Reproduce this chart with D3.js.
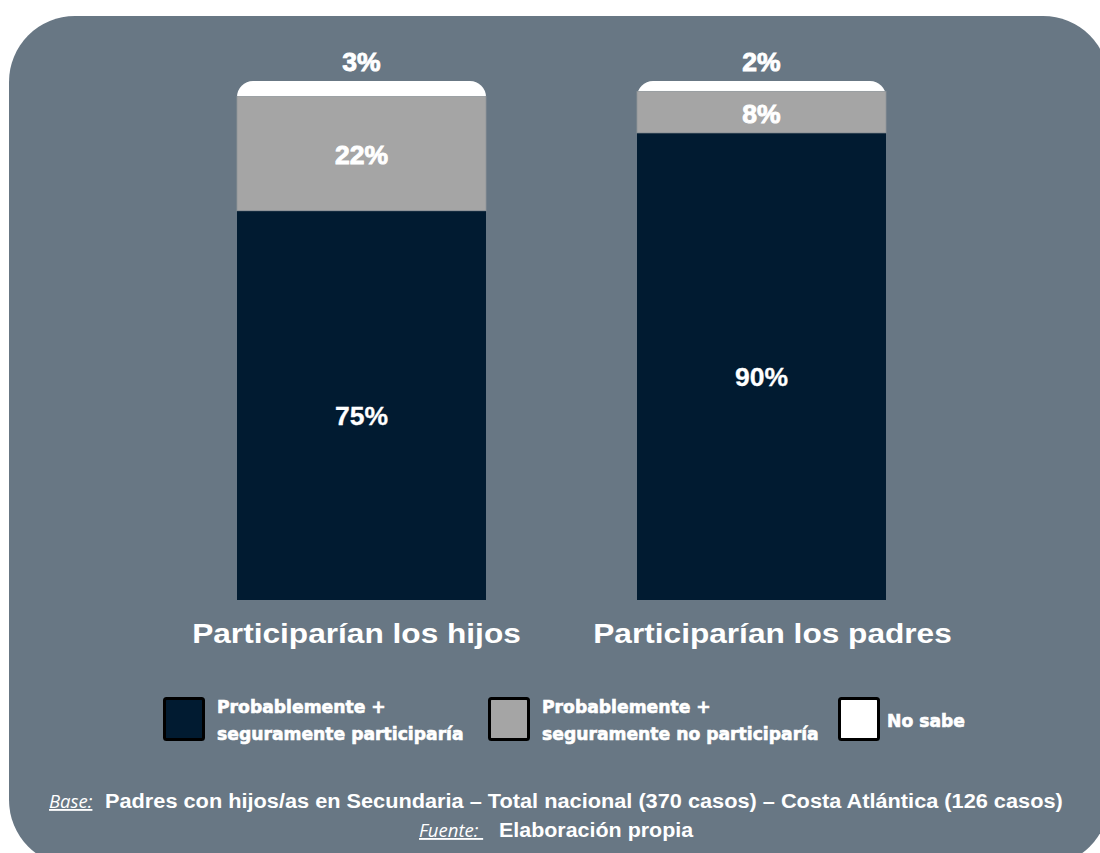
<!DOCTYPE html>
<html>
<head>
<meta charset="utf-8">
<script src="https://cdn.jsdelivr.net/npm/d3@7"></script>
<style>
  html, body { margin: 0; padding: 0; background: #ffffff; }
  svg { display: block; }
  .heavy { font-family: "DejaVu Sans", sans-serif; font-weight: bold; fill: #ffffff; }
  .bold { font-family: "Liberation Sans", Arial, sans-serif; font-weight: bold; fill: #ffffff; }
  .note { font-family: "Open Sans", sans-serif; font-style: italic; fill: #ffffff; text-decoration: underline; }
</style>
</head>
<body>
<svg id="chart" width="1100" height="853"></svg>
<script>
// Categories and stacked shares (percent)
const categories = ["Participarían los hijos", "Participarían los padres"];
const seriesNames = ["Probablemente + seguramente participaría", "Probablemente + seguramente no participaría", "No sabe"];
const participaria = [75, 90];
const noParticiparia = [22, 8];
const noSabe = [3, 2];

const legendLines = [
  ["Probablemente +", "seguramente participaría"],
  ["Probablemente +", "seguramente no participaría"],
  ["No sabe"]
];
const colors = ["#011b31", "#a5a5a5", "#ffffff"];

const svg = d3.select("#chart");

// Places a text at (x, y) with its glyphs widened horizontally by sx
function wideText(parent, cls, x, y, sx, size, anchor, str) {
  return parent.append("text")
    .attr("class", cls)
    .attr("transform", `translate(${x},${y}) scale(${sx},1)`)
    .attr("font-size", size)
    .attr("text-anchor", anchor)
    .text(str);
}

// Panel background
svg.append("rect")
  .attr("x", 9).attr("y", 16)
  .attr("width", 1100).attr("height", 850)
  .attr("rx", 66).attr("ry", 66)
  .attr("fill", "#687784");

const rows = categories.map((c, i) => ({
  cat: c,
  s0: participaria[i],
  s1: noParticiparia[i],
  s2: noSabe[i]
}));
const stack = d3.stack().keys(["s0", "s1", "s2"])(rows);

const x = d3.scaleBand().domain(categories).range([117, 1006]).paddingInner(0.3775).paddingOuter(0.3);
const y = d3.scaleLinear().domain([0, 100]).range([600, 81]);

const g = svg.append("g");
const r = 16;

// Top ("No sabe") segment with rounded upper corners
stack[2].forEach((d, i) => {
  const x0 = x(categories[i]);
  const w = x.bandwidth();
  const yTop = y(d[1]);
  const yBot = y(d[0]) + r;
  const path = d3.path();
  path.moveTo(x0, yBot);
  path.lineTo(x0, yTop + r);
  path.arcTo(x0, yTop, x0 + r, yTop, r);
  path.lineTo(x0 + w - r, yTop);
  path.arcTo(x0 + w, yTop, x0 + w, yTop + r, r);
  path.lineTo(x0 + w, yBot);
  path.closePath();
  g.append("path").attr("d", path.toString()).attr("fill", colors[2]);
});

// Lower segments
[0, 1].forEach(li => {
  stack[li].forEach((d, i) => {
    g.append("rect")
      .attr("x", x(categories[i])).attr("y", y(d[1]))
      .attr("width", x.bandwidth()).attr("height", y(d[0]) - y(d[1]))
      .attr("fill", colors[li])
      .attr("stroke", li === 1 ? "#8e9498" : "none").attr("stroke-width", 0.8);
  });
});

// Value labels (baseline sits half a cap height below the wanted centre)
const labelOffset = [10.5, 1, 0];
const capHalf = 9.5;
stack.forEach((layer, li) => {
  layer.forEach((d, i) => {
    const cx = x(categories[i]) + x.bandwidth() / 2;
    let cy;
    if (li === 2) cy = y(d[1]) - 19.5;
    else cy = (y(d[0]) + y(d[1])) / 2 + labelOffset[li];
    svg.append("text")
      .attr("class", "bold")
      .attr("x", cx).attr("y", cy + capHalf)
      .attr("text-anchor", "middle")
      .attr("font-size", 26.5)
      .attr("stroke", "#ffffff").attr("stroke-width", li === 0 ? 0.3 : 0.9)
      .text(d[1] - d[0] + "%");
  });
});

// Category labels
const catShift = [-5, 11];
categories.forEach((c, i) => {
  wideText(svg, "bold", x(c) + x.bandwidth() / 2 + catShift[i], 643, 1.13, 28, "middle", c);
});

// Legend
const legendX = [163, 488, 838];
seriesNames.forEach((name, i) => {
  const lg = svg.append("g").attr("transform", `translate(${legendX[i]},697)`);
  lg.append("rect")
    .attr("x", 1.5).attr("y", 1.5)
    .attr("width", 39).attr("height", 41)
    .attr("rx", 2)
    .attr("fill", colors[i])
    .attr("stroke", "#000000").attr("stroke-width", 3);
  const lines = legendLines[i];
  const t = lg.append("text")
    .attr("class", "heavy")
    .attr("font-size", 17.2)
    .attr("stroke", "#ffffff").attr("stroke-width", 0.6);
  if (lines.length === 1) {
    t.append("tspan").attr("x", 49).attr("y", 30).text(lines[0]);
  } else {
    lines.forEach((ln, k) => {
      t.append("tspan").attr("x", 54).attr("y", 16 + k * 27).text(ln);
    });
  }
});

// Footnotes
svg.append("text").attr("class", "note")
  .attr("x", 49).attr("y", 808).attr("font-size", 18.5)
  .text("Base:");
wideText(svg, "bold", 105, 808, 1.115, 19.5, "start",
  "Padres con hijos/as en Secundaria – Total nacional (370 casos) – Costa Atlántica (126 casos)");

svg.append("text").attr("class", "note")
  .attr("x", 419).attr("y", 837).attr("font-size", 18.5)
  .text("Fuente:\u00a0");
wideText(svg, "bold", 499, 837, 1.1, 19.5, "start", "Elaboración propia");
</script>
</body>
</html>
